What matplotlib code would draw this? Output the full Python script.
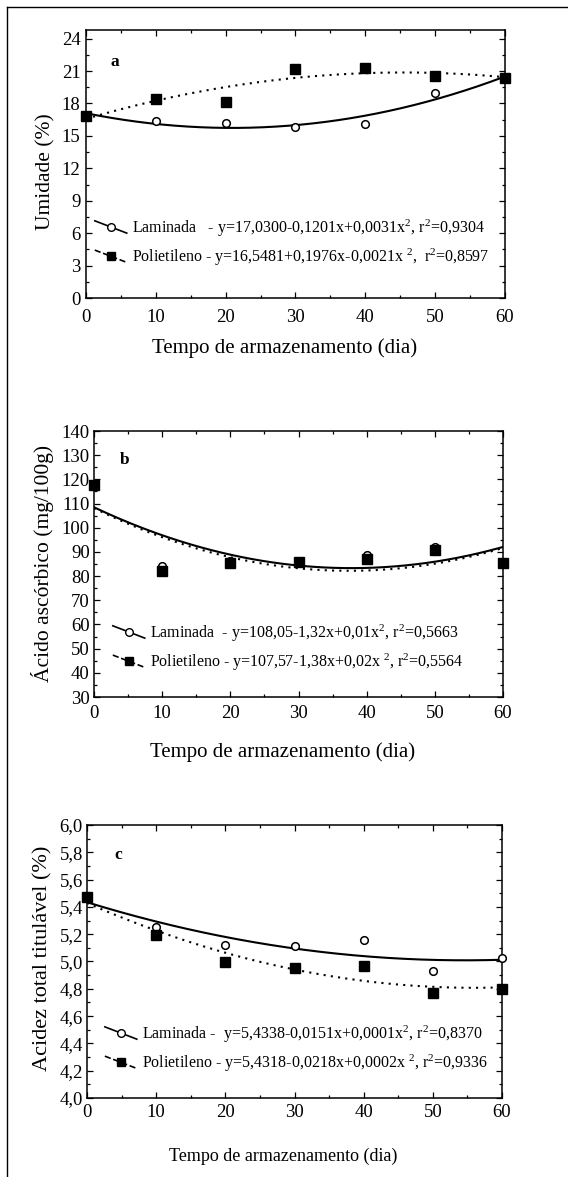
import numpy as np
import matplotlib
matplotlib.use('Agg')
import matplotlib.pyplot as plt
from matplotlib.lines import Line2D
from matplotlib.legend_handler import HandlerBase
from matplotlib.ticker import MultipleLocator, FuncFormatter

plt.rcParams['font.family'] = ['Liberation Serif', 'DejaVu Serif']
plt.rcParams['mathtext.fontset'] = 'custom'
plt.rcParams['mathtext.rm'] = 'Liberation Serif'
plt.rcParams['mathtext.it'] = 'Liberation Serif:italic'
plt.rcParams['mathtext.default'] = 'rm'

# dados (tempo de armazenamento em dias)
dias = [0, 10, 20, 30, 40, 50, 60]

umid_lam = [16.85, 16.35, 16.2, 15.8, 16.1, 19.0, 20.4]
umid_pol = [16.8, 18.45, 18.15, 21.2, 21.3, 20.55, 20.35]

acido_lam = [117.5, 84.0, 86.1, 86.0, 88.6, 92.0, 85.8]
acido_pol = [117.5, 82.2, 85.4, 85.8, 86.9, 90.9, 85.6]

acidez_lam = [5.47, 5.256, 5.124, 5.11, 5.154, 4.927, 5.024]
acidez_pol = [5.47, 5.193, 4.993, 4.951, 4.968, 4.768, 4.80]

leg_a = ['Laminada   - y=17,0300-0,1201x+0,0031x$^2$, r$^2$=0,9304',
         'Polietileno - y=16,5481+0,1976x-0,0021x $^2$,  r$^2$=0,8597']
leg_b = ['Laminada  - y=108,05-1,32x+0,01x$^2$, r$^2$=0,5663',
         'Polietileno - y=107,57-1,38x+0,02x $^2$, r$^2$=0,5564']
leg_c = ['Laminada -  y=5,4338-0,0151x+0,0001x$^2$, r$^2$=0,8370',
         'Polietileno - y=5,4318-0,0218x+0,0002x $^2$, r$^2$=0,9336']


class Diagonal(HandlerBase):
    # legenda com a linha inclinada e o marcador no meio
    def create_artists(self, legend, orig, xdescent, ydescent, width, height, fontsize, trans):
        x0, x1 = -xdescent, -xdescent + width
        y0, y1 = -ydescent + height * 1.05, -ydescent - height * 0.05
        ln = Line2D([x0, x1], [y0, y1], color='black', linestyle=orig.get_linestyle(),
                    linewidth=orig.get_linewidth(), transform=trans)
        mk = Line2D([(x0 + x1) / 2], [(y0 + y1) / 2], marker=orig.get_marker(),
                    markersize=orig.get_markersize(), markerfacecolor=orig.get_markerfacecolor(),
                    markeredgecolor='black', markeredgewidth=orig.get_markeredgewidth(),
                    linestyle='none', transform=trans)
        return [ln, mk]


def painel(ax, y_lam, y_pol, ylim, ystep, yfmt, letra, letra_xy, legendas, leg_xy, ylabel,
           ylab_xy, xlab_xy, xlab_size, ylab_size, xpad, ypad):
    xs = np.linspace(0, 60, 200)
    c_lam = np.polyfit(dias, y_lam, 2)
    c_pol = np.polyfit(dias, y_pol, 2)
    ax.plot(xs, np.polyval(c_lam, xs), color='black', lw=1.5, zorder=2)
    ax.plot(xs, np.polyval(c_pol, xs), color='black', lw=1.5, ls=(0, (1, 2.5)), zorder=2)
    ax.plot(dias, y_lam, 'o', ms=5.5, mfc='white', mec='black', mew=1.1, zorder=3, clip_on=False)
    ax.plot(dias, y_pol, 's', ms=6.5, mfc='black', mec='black', zorder=4, clip_on=False)

    ax.set_xlim(0, 60)
    ax.set_ylim(*ylim)
    ax.xaxis.set_major_locator(MultipleLocator(10))
    ax.xaxis.set_minor_locator(MultipleLocator(5))
    ax.yaxis.set_major_locator(MultipleLocator(ystep))
    ax.yaxis.set_minor_locator(MultipleLocator(ystep / 2))
    ax.yaxis.set_major_formatter(FuncFormatter(lambda v, p: yfmt.format(v).replace('.', ',')))
    ax.tick_params(which='both', direction='in', top=True, right=True, width=0.9)
    ax.tick_params(which='major', length=4)
    ax.tick_params(which='minor', length=2.5)
    ax.tick_params(axis='x', labelsize=13.5, pad=xpad)
    ax.tick_params(axis='y', labelsize=13.5, pad=ypad)
    for s in ax.spines.values():
        s.set_linewidth(1.1)

    ax.text(letra_xy[0], letra_xy[1], letra, transform=ax.transAxes, fontsize=12.5,
            fontweight='bold', ha='center', va='center')

    h1 = Line2D([], [], color='black', lw=1.2, marker='o', ms=5.5, mfc='white', mew=1.0)
    h2 = Line2D([], [], color='black', lw=1.2, ls=(0, (1, 2)), marker='s', ms=6, mfc='black')
    ax.legend([h1, h2], legendas, loc='center left', bbox_to_anchor=leg_xy, frameon=False,
              fontsize=11.5, handlelength=2.0, handletextpad=0.3, labelspacing=0.5,
              borderpad=0, borderaxespad=0, handler_map={Line2D: Diagonal()})

    ax.set_xlabel('Tempo de armazenamento (dia)', fontsize=xlab_size)
    ax.set_ylabel(ylabel, fontsize=ylab_size)
    ax.xaxis.set_label_coords(*xlab_xy)
    ax.yaxis.set_label_coords(*ylab_xy)


fig = plt.figure(figsize=(5.68, 11.77), dpi=100, facecolor='white')

ax_a = fig.add_axes([0.1514, 0.7468, 0.7376, 0.2277])
ax_b = fig.add_axes([0.1655, 0.4078, 0.7201, 0.2260])
ax_c = fig.add_axes([0.1532, 0.0671, 0.7306, 0.2320])

painel(ax_a, umid_lam, umid_pol, (0, 24.8), 3, '{:.0f}', 'a', (0.069, 0.88), leg_a,
       (0.021, 0.207), 'Umidade (%)', (-0.074, 0.47), (0.474, -0.149), 15, 15.5, 8, 4)
painel(ax_b, acido_lam, acido_pol, (30, 140), 10, '{:.0f}', 'b', (0.076, 0.89), leg_b,
       (0.046, 0.186), 'Ácido ascórbico (mg/100g)', (-0.098, 0.504), (0.462, -0.169), 15, 15.5, 6, 3)
painel(ax_c, acidez_lam, acidez_pol, (4.0, 6.0), 0.2, '{:.1f}', 'c', (0.075, 0.89), leg_c,
       (0.043, 0.181), 'Acidez total titulável (%)', (-0.084, 0.513), (0.472, -0.183), 13, 16, 4, 3)

# moldura da página (linha superior e lateral esquerda)
fig.add_artist(Line2D([7 / 568, 1.0], [1 - 7 / 1177, 1 - 7 / 1177], color='black', lw=1.0,
                      transform=fig.transFigure))
fig.add_artist(Line2D([7 / 568, 7 / 568], [0, 1 - 7 / 1177], color='black', lw=1.0,
                      transform=fig.transFigure))

fig.savefig('out.png', dpi=100)
